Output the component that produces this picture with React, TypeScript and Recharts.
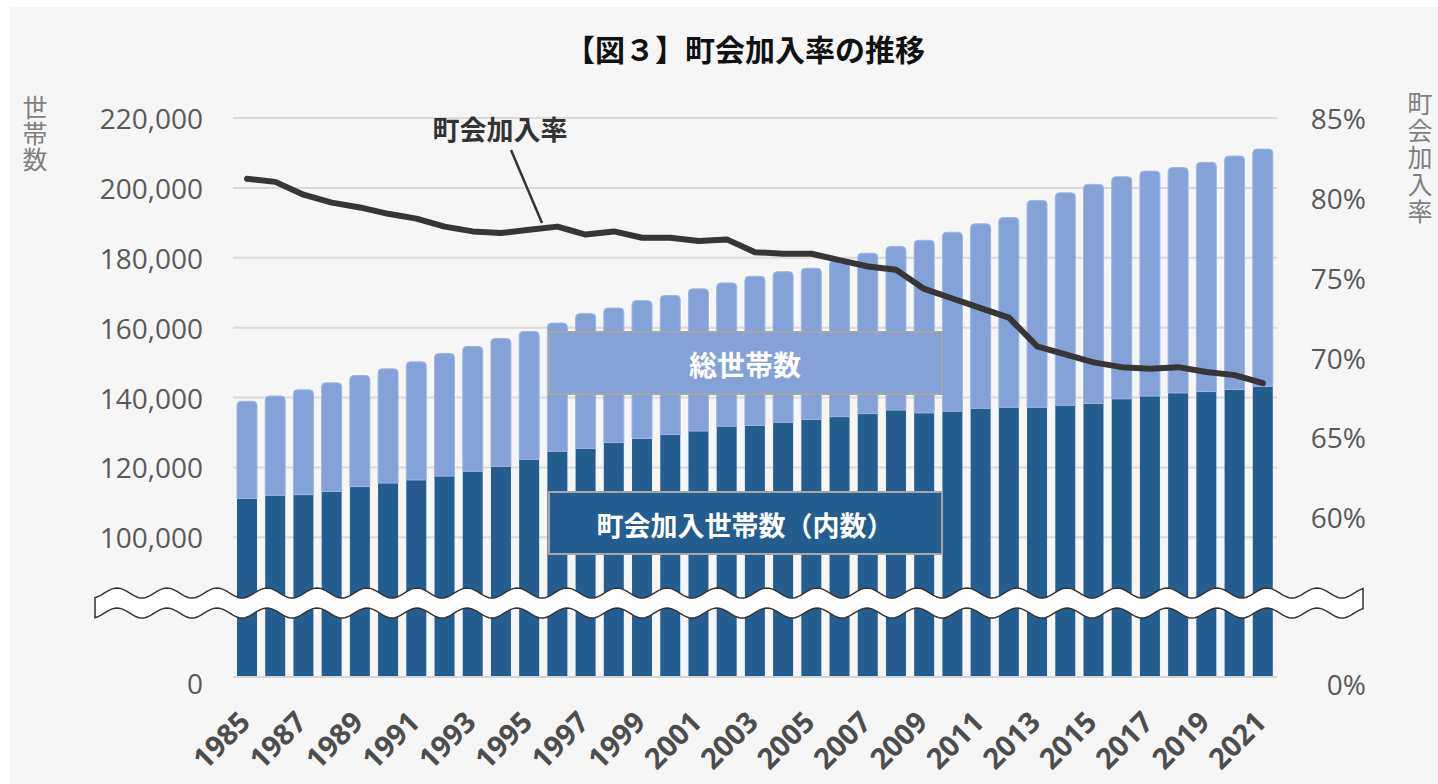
import React from "react";
import { ComposedChart, Bar, Line, XAxis, YAxis, CartesianGrid } from "recharts";

const years = [
  "1985", "1986", "1987", "1988", "1989", "1990", "1991", "1992", "1993", "1994",
  "1995", "1996", "1997", "1998", "1999", "2000", "2001", "2002", "2003", "2004",
  "2005", "2006", "2007", "2008", "2009", "2010", "2011", "2012", "2013", "2014",
  "2015", "2016", "2017", "2018", "2019", "2020", "2021",
];

// 総世帯数
const totalHouseholds = [
  138900, 140400, 142200, 144200, 146300, 148200, 150200, 152600, 154600, 156900,
  158900, 161300, 164000, 165600, 167700, 169200, 171100, 172800, 174700, 176000,
  177000, 179200, 181300, 183200, 185000, 187300, 189700, 191500, 196400, 198600,
  201000, 203200, 204800, 205800, 207300, 209100, 211100,
];

// 町会加入世帯数（内数）
const joinedHouseholds = [
  111100, 112000, 112200, 113100, 114500, 115500, 116400, 117500, 118900, 120300,
  122300, 124600, 125400, 127100, 128300, 129400, 130400, 131800, 132000, 132900,
  133700, 134500, 135400, 136400, 135600, 136100, 136900, 137200, 137200, 137800,
  138300, 139600, 140400, 141300, 141700, 142300, 143200,
];

// 町会加入率 (%)
const joinRate = [
  81.2, 81.0, 80.2, 79.7, 79.4, 79.0, 78.7, 78.2, 77.9, 77.8,
  78.0, 78.2, 77.7, 77.9, 77.5, 77.5, 77.3, 77.4, 76.6, 76.5,
  76.5, 76.1, 75.7, 75.5, 74.3, 73.7, 73.1, 72.5, 70.7, 70.2,
  69.7, 69.4, 69.3, 69.4, 69.1, 68.9, 68.4,
];

const leftTickValues = [0, 100000, 120000, 140000, 160000, 180000, 200000, 220000];
const rightTickValues = [0, 60, 65, 70, 75, 80, 85];

// broken axes: the part below the break is squeezed
const leftT = (v: number) => (v >= 100000 ? v - 60000 : v * 0.4);
const rightT = (r: number) => (r >= 60 ? r - 50 : r / 6);

const data = years.map((year, i) => ({
  year,
  joined: leftT(joinedHouseholds[i]),
  rest: leftT(totalHouseholds[i]) - leftT(joinedHouseholds[i]),
  rate: rightT(joinRate[i]),
}));

const leftTicks = leftTickValues.map(leftT);
const rightTicks = rightTickValues.map(rightT);

const DARK = "#245e91";
const LIGHT = "#84a2d8";
const TICK_COLOR = "#595959";
const JP = "'Noto Sans CJK JP', 'Noto Sans', sans-serif";
const LATIN = "'Open Sans', 'Noto Sans', sans-serif";

const LeftTick = ({ x, y, payload }: any) => {
  const idx = leftTicks.indexOf(payload.value);
  const v = leftTickValues[idx];
  return (
    <text x={x} y={y + (v === 0 ? 6 : 0)} textAnchor="end" dominantBaseline="central"
      fill={TICK_COLOR} fontSize={28} fontFamily={LATIN}>
      {v.toLocaleString("en-US")}
    </text>
  );
};

const RightTick = ({ x, y, payload }: any) => {
  const idx = rightTicks.indexOf(payload.value);
  const v = rightTickValues[idx];
  return (
    <text x={x + 89} y={y + (v === 0 ? 7 : 0)} textAnchor="end" dominantBaseline="central"
      fill={TICK_COLOR} fontSize={28} fontFamily={LATIN}>
      {v}%
    </text>
  );
};

const YearTick = ({ x, y, payload }: any) => {
  const tx = x + 5;
  const ty = y + 47;
  return (
    <text x={tx} y={ty} transform={`rotate(-45 ${tx} ${ty})`} textAnchor="end"
      fill="#4d4d4d" fontSize={29} fontWeight="bold" fontFamily={LATIN}>
      {payload.value}
    </text>
  );
};

function wavePath(x0: number, x1: number, top: number, bottom: number) {
  const amp = 5;
  const period = 50;
  const phase = 117;
  const y = (x: number, c: number) => c - amp * Math.cos((2 * Math.PI * (x - phase)) / period);
  let d = `M ${x0} ${y(x0, top)}`;
  for (let x = x0 + 2; x <= x1; x += 2) d += ` L ${x} ${y(x, top)}`;
  d += ` L ${x1} ${y(x1, bottom)}`;
  for (let x = x1 - 2; x >= x0; x -= 2) d += ` L ${x} ${y(x, bottom)}`;
  return d + " Z";
}

function Overlay() {
  return (
    <svg width={1438} height={784} style={{ position: "absolute", left: 0, top: 0, pointerEvents: "none" }}>
      <text x={745} y={48} textAnchor="middle" dominantBaseline="central" fontSize={30}
        fontWeight="bold" fill="#111" fontFamily={JP}>
        【図３】町会加入率の推移
      </text>
      <text x={35} y={95} fill="#7f7f7f" fontSize={25} fontFamily={JP} letterSpacing={1}
        style={{ writingMode: "vertical-rl" }}>
        世帯数
      </text>
      <text x={1420} y={91} fill="#7f7f7f" fontSize={25} fontFamily={JP} letterSpacing={2}
        style={{ writingMode: "vertical-rl" }}>
        町会加入率
      </text>

      <path d={wavePath(95, 1363, 593, 613)} fill="#ffffff" stroke="#333" strokeWidth={1.5} />

      <rect x={549} y={332} width={393} height={62} fill={LIGHT} stroke="#a6a6a6" strokeWidth={2} />
      <text x={745} y={364} textAnchor="middle" dominantBaseline="central" fill="#fff"
        fontSize={28} fontWeight="bold" fontFamily={JP}>
        総世帯数
      </text>
      <rect x={549} y={492} width={393} height={62} fill={DARK} stroke="#a6a6a6" strokeWidth={2} />
      <text x={745} y={524} textAnchor="middle" dominantBaseline="central" fill="#fff"
        fontSize={27} fontWeight="bold" fontFamily={JP}>
        町会加入世帯数（内数）
      </text>

      <text x={500} y={128} textAnchor="middle" dominantBaseline="central" fill="#333"
        fontSize={27} fontWeight="bold" fontFamily={JP}>
        町会加入率
      </text>
      <line x1={511} y1={150} x2={542} y2={223} stroke="#333" strokeWidth={2.5} />
    </svg>
  );
}

export default function App() {
  return (
    <div style={{ position: "absolute", left: 0, top: 0, width: 1438, height: 784, background: "#fff" }}>
      <div style={{ position: "absolute", left: 10, top: 7, width: 1428, height: 777, background: "#f6f6f6" }} />
      <div style={{ position: "absolute", left: 0, top: 0 }}>
        <ComposedChart width={1438} height={784} data={data}
          margin={{ top: 118, right: 0, bottom: 0, left: 0 }} barSize={20}>
          <CartesianGrid yAxisId="left" vertical={false} stroke="#dadada" strokeWidth={2} />
          <XAxis dataKey="year" height={107} interval={1} tickSize={0} tickMargin={0}
            axisLine={{ stroke: "#d6d6d6", strokeWidth: 2 }} tickLine={false} tick={<YearTick />} />
          <YAxis yAxisId="left" width={233} domain={[0, leftT(220000)]} ticks={leftTicks}
            allowDataOverflow axisLine={false} tickLine={false} tickSize={0} tickMargin={30}
            tick={<LeftTick />} />
          <YAxis yAxisId="right" orientation="right" width={161} domain={[0, rightT(85)]}
            ticks={rightTicks} allowDataOverflow axisLine={false} tickLine={false} tickSize={0}
            tickMargin={0} tick={<RightTick />} />
          <Bar yAxisId="left" dataKey="joined" stackId="a" fill={DARK} isAnimationActive={false} />
          <Bar yAxisId="left" dataKey="rest" stackId="a" fill={LIGHT} stroke="#9fb6e2"
            strokeWidth={1} radius={[4, 4, 0, 0]} isAnimationActive={false} />
          <Line yAxisId="right" dataKey="rate" type="linear" stroke="#383634" strokeWidth={6}
            strokeLinecap="round" strokeLinejoin="round" dot={false} activeDot={false}
            isAnimationActive={false} />
        </ComposedChart>
      </div>
      <Overlay />
    </div>
  );
}
